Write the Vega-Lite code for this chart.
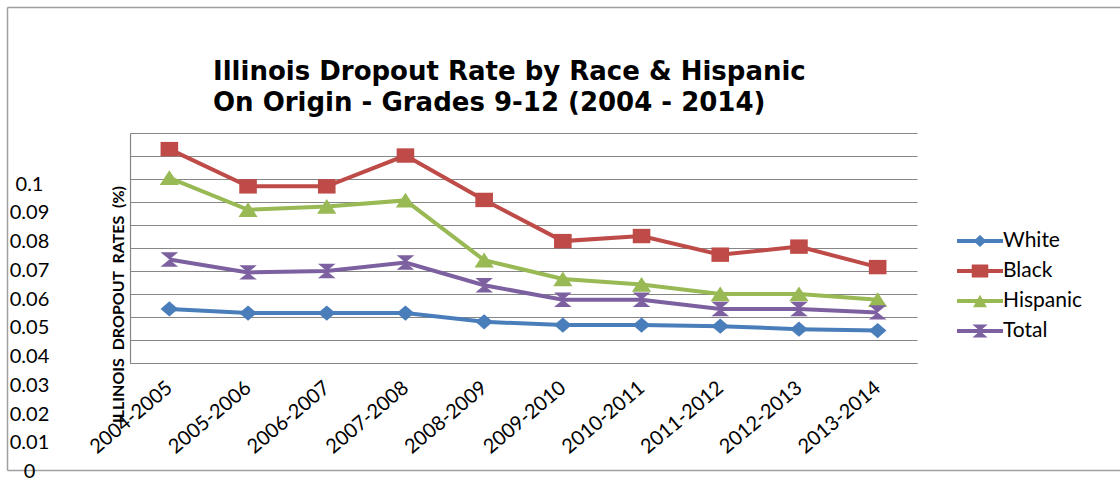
{
  "$schema": "https://vega.github.io/schema/vega-lite/v6.json",
  "autosize": {"type": "none"},
  "width": 787,
  "height": 230,
  "padding": {"left": 130, "top": 133, "right": 203, "bottom": 118},
  "background": "white",
  "title": {
    "text": ["Illinois Dropout Rate by Race & Hispanic", "\u00a0On Origin - Grades 9-12 (2004 - 2014)"],
    "anchor": "start",
    "frame": "group",
    "dx": 83,
    "font": "DejaVu Sans",
    "fontSize": 26,
    "fontWeight": "bold",
    "color": "#000000",
    "lineHeight": 31,
    "baseline": "bottom",
    "offset": -135
  },
  "data": {
    "values": [
      {"period": "2004-2005", "race": "White", "rate": 0.0235},
      {"period": "2005-2006", "race": "White", "rate": 0.0217},
      {"period": "2006-2007", "race": "White", "rate": 0.0217},
      {"period": "2007-2008", "race": "White", "rate": 0.0217},
      {"period": "2008-2009", "race": "White", "rate": 0.0179},
      {"period": "2009-2010", "race": "White", "rate": 0.0165},
      {"period": "2010-2011", "race": "White", "rate": 0.0165},
      {"period": "2011-2012", "race": "White", "rate": 0.016},
      {"period": "2012-2013", "race": "White", "rate": 0.0147},
      {"period": "2013-2014", "race": "White", "rate": 0.0141},
      {"period": "2004-2005", "race": "Black", "rate": 0.093},
      {"period": "2005-2006", "race": "Black", "rate": 0.0768},
      {"period": "2006-2007", "race": "Black", "rate": 0.0768},
      {"period": "2007-2008", "race": "Black", "rate": 0.0902},
      {"period": "2008-2009", "race": "Black", "rate": 0.0709},
      {"period": "2009-2010", "race": "Black", "rate": 0.053},
      {"period": "2010-2011", "race": "Black", "rate": 0.0552},
      {"period": "2011-2012", "race": "Black", "rate": 0.0471},
      {"period": "2012-2013", "race": "Black", "rate": 0.0506},
      {"period": "2013-2014", "race": "Black", "rate": 0.0417},
      {"period": "2004-2005", "race": "Hispanic", "rate": 0.0805},
      {"period": "2005-2006", "race": "Hispanic", "rate": 0.0666},
      {"period": "2006-2007", "race": "Hispanic", "rate": 0.068},
      {"period": "2007-2008", "race": "Hispanic", "rate": 0.0707},
      {"period": "2008-2009", "race": "Hispanic", "rate": 0.0447},
      {"period": "2009-2010", "race": "Hispanic", "rate": 0.0365},
      {"period": "2010-2011", "race": "Hispanic", "rate": 0.0341},
      {"period": "2011-2012", "race": "Hispanic", "rate": 0.03},
      {"period": "2012-2013", "race": "Hispanic", "rate": 0.03},
      {"period": "2013-2014", "race": "Hispanic", "rate": 0.0275},
      {"period": "2004-2005", "race": "Total", "rate": 0.045},
      {"period": "2005-2006", "race": "Total", "rate": 0.0394},
      {"period": "2006-2007", "race": "Total", "rate": 0.04},
      {"period": "2007-2008", "race": "Total", "rate": 0.0437},
      {"period": "2008-2009", "race": "Total", "rate": 0.0338},
      {"period": "2009-2010", "race": "Total", "rate": 0.0275},
      {"period": "2010-2011", "race": "Total", "rate": 0.0275},
      {"period": "2011-2012", "race": "Total", "rate": 0.0235},
      {"period": "2012-2013", "race": "Total", "rate": 0.0235},
      {"period": "2013-2014", "race": "Total", "rate": 0.022}
    ]
  },
  "layer": [
    {
      "encoding": {
        "x": {
          "field": "period", "type": "ordinal",
          "scale": {"type": "point", "padding": 0.5},
          "axis": {
            "orient": "bottom", "title": null, "ticks": false, "grid": false,
            "domainColor": "#868686", "domainWidth": 1.2,
            "labelAngle": -40, "labelAlign": "right", "labelBaseline": "middle",
            "labelPadding": 22, "labelFont": "Lato", "labelFontSize": 20,
            "labelColor": "#000000", "labelOverlap": false
          }
        },
        "y": {
          "field": "rate", "type": "quantitative",
          "scale": {"domain": [0, 0.1], "nice": false},
          "axis": {
            "orient": "left",
            "values": [0, 0.01, 0.02, 0.03, 0.04, 0.05, 0.06, 0.07, 0.08, 0.09, 0.1],
            "grid": true, "gridColor": "#868686", "gridWidth": 1.2,
            "labels": false, "ticks": false,
            "domain": true, "domainColor": "#868686", "domainWidth": 1.2,
            "title": "ILLINOIS\u00a0\u00a0DROPOUT\u00a0\u00a0RATES\u00a0\u00a0(%)",
            "titleFont": "Lato", "titleFontSize": 16, "titleFontWeight": "bold",
            "titleColor": "#000000", "titleAngle": -90,
            "titleX": -12, "titleY": 171,
            "titleAlign": "center", "titleBaseline": "middle"
          }
        }
      },
      "layer": [
        {
          "mark": {"type": "line", "strokeWidth": 4},
          "encoding": {
            "color": {
              "field": "race", "type": "nominal",
              "scale": {
                "domain": ["White", "Black", "Hispanic", "Total"],
                "range": ["#4A7EBB", "#BE4B48", "#98B954", "#7D60A0"]
              }
            }
          }
        },
        {
          "transform": [{"filter": {"field": "race", "equal": "White"}}],
          "mark": {"type": "point", "filled": true, "size": 256, "opacity": 1, "strokeWidth": 0,
                   "color": "#4A7EBB", "shape": "M-1.1,0L0,-0.95L1.1,0L0,0.95Z"}
        },
        {
          "transform": [{"filter": {"field": "race", "equal": "Black"}}],
          "mark": {"type": "point", "filled": true, "size": 256, "opacity": 1, "strokeWidth": 0,
                   "color": "#BE4B48", "shape": "M-1.1,-0.9L1.1,-0.9L1.1,0.9L-1.1,0.9Z"}
        },
        {
          "transform": [{"filter": {"field": "race", "equal": "Hispanic"}}],
          "mark": {"type": "point", "filled": true, "size": 256, "opacity": 1, "strokeWidth": 0,
                   "color": "#98B954", "shape": "M0,-0.95L1.2,0.9L-1.2,0.9Z"}
        },
        {
          "transform": [{"filter": {"field": "race", "equal": "Total"}}],
          "mark": {"type": "point", "filled": true, "size": 256, "opacity": 1, "strokeWidth": 0,
                   "color": "#7D60A0", "shape": "M-1.1,-0.9L1.1,-0.9L0,0Z M0,0L1.1,0.9L-1.1,0.9Z"}
        },
        {
          "mark": {"type": "point", "filled": true, "opacity": 0},
          "encoding": {
            "color": {
              "field": "race", "type": "nominal",
              "legend": {
                "orient": "none", "legendX": 827, "legendY": 93,
                "title": null, "padding": 0,
                "symbolSize": 2116, "clipHeight": 30, "rowPadding": 0,
                "symbolOpacity": 1, "symbolStrokeWidth": 0,
                "labelOffset": 0, "labelFont": "Lato", "labelFontSize": 21,
                "labelColor": "#000000"
              }
            },
            "shape": {
              "field": "race", "type": "nominal",
              "scale": {
                "domain": ["White", "Black", "Hispanic", "Total"],
                "range": [
                  "M-1,-0.085L1,-0.085L1,0.085L-1,0.085Z M-0.28,0L0,-0.26L0.28,0L0,0.26Z",
                  "M-1,-0.085L1,-0.085L1,0.085L-1,0.085Z M-0.36,-0.28L0.36,-0.28L0.36,0.28L-0.36,0.28Z",
                  "M-1,-0.085L1,-0.085L1,0.085L-1,0.085Z M0,-0.27L0.3,0.27L-0.3,0.27Z",
                  "M-1,-0.085L1,-0.085L1,0.085L-1,0.085Z M-0.33,-0.28L0.33,-0.28L0,0Z M0,0L0.33,0.28L-0.33,0.28Z"
                ]
              },
              "legend": {
                "orient": "none", "legendX": 827, "legendY": 93,
                "title": null, "padding": 0,
                "symbolSize": 2116, "clipHeight": 30, "rowPadding": 0,
                "symbolOpacity": 1, "symbolStrokeWidth": 0,
                "labelOffset": 0, "labelFont": "Lato", "labelFontSize": 21,
                "labelColor": "#000000"
              }
            }
          }
        }
      ]
    },
    {
      "mark": {"type": "point", "opacity": 0},
      "encoding": {
        "y": {
          "field": "rate", "type": "quantitative",
          "scale": {"domain": [0, 0.1], "range": [338.7, 51], "nice": false, "zero": false},
          "axis": {
            "orient": "left",
            "values": [0, 0.01, 0.02, 0.03, 0.04, 0.05, 0.06, 0.07, 0.08, 0.09, 0.1],
            "format": ".2~f",
            "domain": false, "ticks": false, "tickSize": 0, "grid": false, "title": null,
            "labelFont": "Lato", "labelFontSize": 20, "labelColor": "#000000",
            "labelAlign": "center", "labelBaseline": "middle", "labelPadding": 101,
            "labelOverlap": false, "labelFlush": false, "labelBound": false
          }
        }
      }
    },
    {
      "mark": {"type": "point", "opacity": 0},
      "encoding": {
        "x": {
          "field": "rate", "type": "quantitative",
          "scale": {"domain": [0, 1], "range": [-123, 1000], "nice": false, "zero": false},
          "axis": {
            "orient": "bottom", "offset": 107, "domain": true, "domainColor": "#A0A0A0",
            "domainWidth": 1.5, "labels": false, "ticks": false, "grid": false, "title": null
          }
        },
        "y": {
          "field": "rate", "type": "quantitative",
          "scale": {"domain": [0, 1], "range": [337, -126], "nice": false, "zero": false},
          "axis": {
            "orient": "left", "offset": 123, "domain": true, "domainColor": "#A0A0A0",
            "domainWidth": 1.5, "labels": false, "ticks": false, "grid": false, "title": null
          }
        }
      }
    },
    {
      "mark": {"type": "point", "opacity": 0},
      "encoding": {
        "x": {
          "field": "rate", "type": "quantitative",
          "scale": {"domain": [0, 1], "range": [-123, 1000], "nice": false, "zero": false},
          "axis": {
            "orient": "top", "offset": 126, "domain": true, "domainColor": "#A0A0A0",
            "domainWidth": 1.5, "labels": false, "ticks": false, "grid": false, "title": null
          }
        }
      }
    }
  ],
  "resolve": {"scale": {"x": "independent", "y": "independent"}},
  "config": {"view": {"stroke": null}}
}
